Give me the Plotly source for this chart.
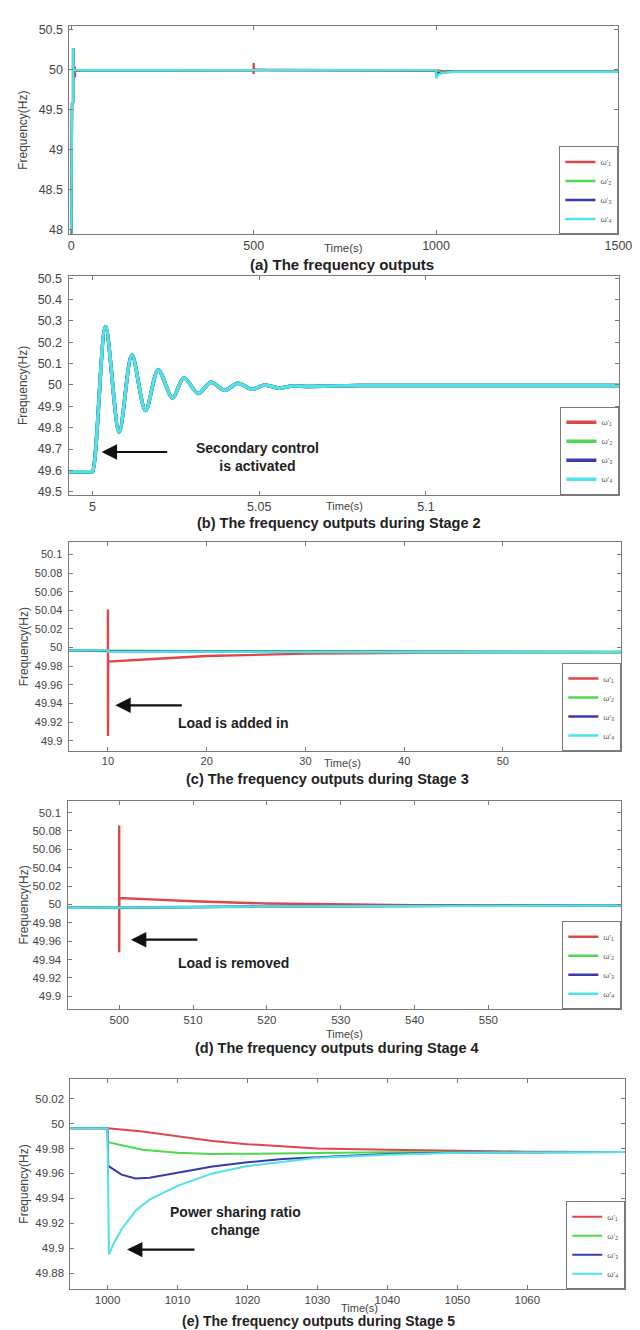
import plotly.graph_objects as go

W, H = 640, 1330

# ---------------- data ----------------
names = ["ω'₁", "ω'₂", "ω'₃", "ω'₄"]
colors = ["#e0454b", "#4fd84f", "#3a3ab0", "#4fe2e6"]

# start-up (primary control only)
s1_t = [0, 0.5, 2, 4.99]
s1_w = [47.95, 49.3, 49.58, 49.594]

# Stage 2: secondary control activated (all units identical)
b_t = [4.9928, 4.9995, 5.0, 5.0039, 5.0080, 5.0118, 5.0159, 5.0197, 5.0240, 5.0274, 5.0317,
       5.0355, 5.0396, 5.0436, 5.0478, 5.0516, 5.0558, 5.0600, 5.0650, 5.0800, 5.1580]
b_w = [49.594, 49.594, 49.594, 50.272, 49.780, 50.140, 49.880, 50.070, 49.940, 50.033, 49.960,
       50.013, 49.975, 50.008, 49.980, 50.000, 49.985, 49.995, 49.993, 49.997, 49.997]

# Stage 3: load added
c_t1 = [6, 9.99, 9.995, 10.0, 10.02, 15, 20, 30, 40, 50, 62]
c_w1 = [49.997, 49.997, 50.041, 49.905, 49.985, 49.988, 49.991, 49.9935, 49.9945, 49.995, 49.995]
c_t = [6, 9.99, 10.01, 20, 40, 62]
c_w2 = [49.997, 49.997, 49.9966, 49.9962, 49.9958, 49.9955]
c_w3 = [49.997, 49.997, 49.9962, 49.9958, 49.9954, 49.9952]
c_w4 = [49.997, 49.997, 49.9958, 49.9954, 49.9950, 49.9950]

# Stage 4: load removed
d_t1 = [493, 499.99, 499.995, 500.0, 500.02, 505, 510, 520, 530, 540, 550, 568]
d_w1 = [49.9965, 49.9965, 50.086, 49.948, 50.007, 50.0053, 50.0035, 50.001, 50.0, 49.9993, 49.999, 49.999]
d_t = [493, 500, 510, 520, 530, 545, 568]
d_w2 = [49.9965, 49.9962, 49.9970, 49.9977, 49.9980, 49.9985, 49.9988]
d_w3 = [49.9965, 49.9965, 49.9972, 49.9978, 49.9982, 49.9986, 49.9988]
d_w4 = [49.9965, 49.9965, 49.9971, 49.9977, 49.9981, 49.9985, 49.9988]

# Stage 5: power sharing ratio change
e_t1 = [994.7, 1000, 1005, 1010, 1015, 1020, 1025, 1030, 1040, 1050, 1060, 1074]
e_w1 = [49.9963, 49.9963, 49.9936, 49.9896, 49.986, 49.9835, 49.9816, 49.980, 49.979, 49.978, 49.9775, 49.9773]
e_t2 = [994.7, 1000, 1000.1, 1005, 1010, 1015, 1020, 1030, 1040, 1074]
e_w2 = [49.9963, 49.9963, 49.985, 49.979, 49.9765, 49.9755, 49.9757, 49.9765, 49.977, 49.9773]
e_t3 = [994.7, 1000, 1000.1, 1002, 1004, 1006, 1010, 1015, 1020, 1025, 1030, 1040, 1050, 1074]
e_w3 = [49.9963, 49.9963, 49.966, 49.959, 49.956, 49.9565, 49.9605, 49.9655, 49.969, 49.9715, 49.973, 49.9755, 49.9767, 49.9773]
e_t4 = [994.7, 1000, 1000.2, 1001, 1002, 1004, 1006, 1010, 1015, 1020, 1030, 1040, 1050, 1074]
e_w4 = [49.9963, 49.9963, 49.895, 49.905, 49.915, 49.930, 49.939, 49.950, 49.960, 49.966, 49.9725, 49.975, 49.9765, 49.9773]

# end of the run (overall plot)
end_t = [1500]
end_w = [49.9773]

# ---------------- panel definitions ----------------
panels = [
    dict(frame=(61, 624, 13, 223), xr=[-5, 1500], yr=[47.94, 50.55],
         xt=[0, 500, 1000, 1500], yt=[48, 48.5, 49, 49.5, 50, 50.5],
         xtt=["0", "500", "1000", "1500"], ytt=["48", "48.5", "49", "49.5", "50", "50.5"],
         leg=(539, 624, 168, 223), time=(342, 237), title=(341, 253),
         ttext="(a) The frequency outputs", tf=12.5, hf=15),
    dict(frame=(60, 625, 265, 485), xr=[4.9928, 5.158], yr=[49.486, 50.509],
         xt=[5, 5.05, 5.1], yt=[49.5, 49.6, 49.7, 49.8, 49.9, 50, 50.1, 50.2, 50.3, 50.4, 50.5],
         xtt=["5", "5.05", "5.1"], ytt=["49.5", "49.6", "49.7", "49.8", "49.9", "50", "50.1", "50.2", "50.3", "50.4", "50.5"],
         leg=(541, 625, 427, 485), time=(343, 496), title=(337, 513),
         ttext="(b) The frequency outputs during Stage 2", tf=12.5, hf=14.5),
    dict(frame=(60, 627, 533, 743), xr=[6, 62], yr=[49.889, 50.113],
         xt=[10, 20, 30, 40, 50], yt=[49.9, 49.92, 49.94, 49.96, 49.98, 50, 50.02, 50.04, 50.06, 50.08, 50.1],
         xtt=["10", "20", "30", "40", "50"],
         ytt=["49.9", "49.92", "49.94", "49.96", "49.98", "50", "50.02", "50.04", "50.06", "50.08", "50.1"],
         leg=(541, 627, 688, 743), time=(341, 755), title=(326, 771),
         ttext="(c) The frequency outputs during Stage 3", tf=11, hf=14.5),
    dict(frame=(59, 627, 793, 1003), xr=[493, 568], yr=[49.886, 50.113],
         xt=[500, 510, 520, 530, 540, 550], yt=[49.9, 49.92, 49.94, 49.96, 49.98, 50, 50.02, 50.04, 50.06, 50.08, 50.1],
         xtt=["500", "510", "520", "530", "540", "550"],
         ytt=["49.9", "49.92", "49.94", "49.96", "49.98", "50", "50.02", "50.04", "50.06", "50.08", "50.1"],
         leg=(543, 627, 947, 1003), time=(343, 1028), title=(335, 1042),
         ttext="(d) The frequency outputs during Stage 4", tf=11.5, hf=14.5),
    dict(frame=(62, 631, 1073, 1285), xr=[994.7, 1074], yr=[49.867, 50.036],
         xt=[1000, 1010, 1020, 1030, 1040, 1050, 1060], yt=[49.88, 49.9, 49.92, 49.94, 49.96, 49.98, 50, 50.02],
         xtt=["1000", "1010", "1020", "1030", "1040", "1050", "1060"],
         ytt=["49.88", "49.9", "49.92", "49.94", "49.96", "49.98", "50", "50.02"],
         leg=(545, 631, 1230, 1285), time=(358, 1304), title=(316, 1317),
         ttext="(e) The frequency outputs during Stage 5", tf=11.5, hf=14),
]

panel_series = [
    None,
    [(b_t, b_w)] * 4,
    [(c_t1, c_w1), (c_t, c_w2), (c_t, c_w3), (c_t, c_w4)],
    [(d_t1, d_w1), (d_t, d_w2), (d_t, d_w3), (d_t, d_w4)],
    [(e_t1, e_w1), (e_t2, e_w2), (e_t3, e_w3), (e_t4, e_w4)],
]
whole = []
for k in range(4):
    t = list(s1_t) + list(b_t)
    w = list(s1_w) + list(b_w)
    for j in (2, 3, 4):
        t += list(panel_series[j][k][0])
        w += list(panel_series[j][k][1])
    t += end_t
    w += end_w
    whole.append((t, w))
panel_series[0] = whole

widths = [2.4, 3.5, 2.4, 2.4, 2.0]

fig = go.Figure()
layout = dict(width=W, height=H, margin=dict(l=0, r=0, t=0, b=0),
              paper_bgcolor="white", plot_bgcolor="white",
              font=dict(family="Liberation Sans, Arial, sans-serif", color="#333"))
annotations = []


def px_x(p):
    return p / W


def px_y(p):
    return 1 - p / H


for i, p in enumerate(panels):
    n = i + 1
    xa = "x" if n == 1 else f"x{n}"
    ya = "y" if n == 1 else f"y{n}"
    legname = "legend" if n == 1 else f"legend{n}"
    x0, x1, y0, y1 = p["frame"]
    for k in range(4):
        t, w = panel_series[i][k]
        line = dict(color=colors[k], width=widths[i])
        if i == 1:
            line.update(shape="spline", smoothing=0.9)
        fig.add_trace(go.Scatter(x=t, y=w, mode="lines", name=names[k], xaxis=xa, yaxis=ya,
                                 legend=legname, line=line))
    axcommon = dict(showgrid=False, zeroline=False, showline=True, linecolor="#7a7a7a",
                    linewidth=1, mirror="ticks", ticks="inside", ticklen=4, tickcolor="#7a7a7a",
                    tickfont=dict(size=p["tf"], color="#444"))
    layout["xaxis" if n == 1 else f"xaxis{n}"] = dict(
        axcommon, domain=[px_x(x0), px_x(x1)], range=p["xr"], anchor=ya,
        tickvals=p["xt"], ticktext=p["xtt"])
    layout["yaxis" if n == 1 else f"yaxis{n}"] = dict(
        axcommon, domain=[px_y(y1), px_y(y0)], range=p["yr"], anchor=xa,
        tickvals=p["yt"], ticktext=p["ytt"], ticklabelstandoff=3)
    lx0, lx1, ly0, ly1 = p["leg"]
    layout[legname] = dict(x=px_x(lx1), y=px_y(ly1), xanchor="right", yanchor="bottom",
                           bgcolor="white", bordercolor="#7a7a7a", borderwidth=1,
                           font=dict(size=8, color="#555"), itemwidth=30,
                           tracegroupgap=0, entrywidth=50)
    # y-axis caption
    annotations.append(dict(text="Frequency(Hz)", x=px_x(14), y=px_y((y0 + y1) / 2), xref="paper",
                            yref="paper", xanchor="center", yanchor="middle", showarrow=False,
                            textangle=-90, font=dict(size=12, color="#444")))
    # x-axis caption
    tx, ty = p["time"]
    annotations.append(dict(text="Time(s)", x=px_x(tx), y=px_y(ty), xref="paper", yref="paper",
                            xanchor="center", yanchor="middle",
                            showarrow=False, font=dict(size=11.5 if i == 0 else 11, color="#444")))
    # panel caption
    cx, cy = p["title"]
    annotations.append(dict(text="<b>" + p["ttext"] + "</b>", x=px_x(cx), y=px_y(cy), xref="paper",
                            yref="paper", xanchor="center", yanchor="middle",
                            showarrow=False, font=dict(size=p["hf"], color="#222")))

# arrows + descriptive text (pixel positions)
arrow_specs = [
    ((94, 442), 67, "<b>Secondary control<br>is activated</b>", (254, 447)),
    ((108, 697), 68, "<b>Load is added in</b>", (229, 715)),
    ((124, 933), 68, "<b>Load is removed</b>", (229, 956)),
    ((120, 1245), 69, "<b>Power sharing ratio<br>change</b>", (231, 1216)),
]
for (hx, hy), length, text, (tx, ty) in arrow_specs:
    annotations.append(dict(x=px_x(hx), y=px_y(hy), xref="paper", yref="paper", text="",
                            showarrow=True, ax=length, ay=0, arrowhead=2, arrowsize=1.4,
                            arrowwidth=2.2, arrowcolor="#111"))
    annotations.append(dict(text=text, x=px_x(tx), y=px_y(ty), xref="paper", yref="paper",
                            xanchor="center", yanchor="middle",
                            showarrow=False, font=dict(size=14, color="#222")))

layout["annotations"] = annotations
layout["showlegend"] = True
fig.update_layout(**layout)
fig.write_html("out.html")
